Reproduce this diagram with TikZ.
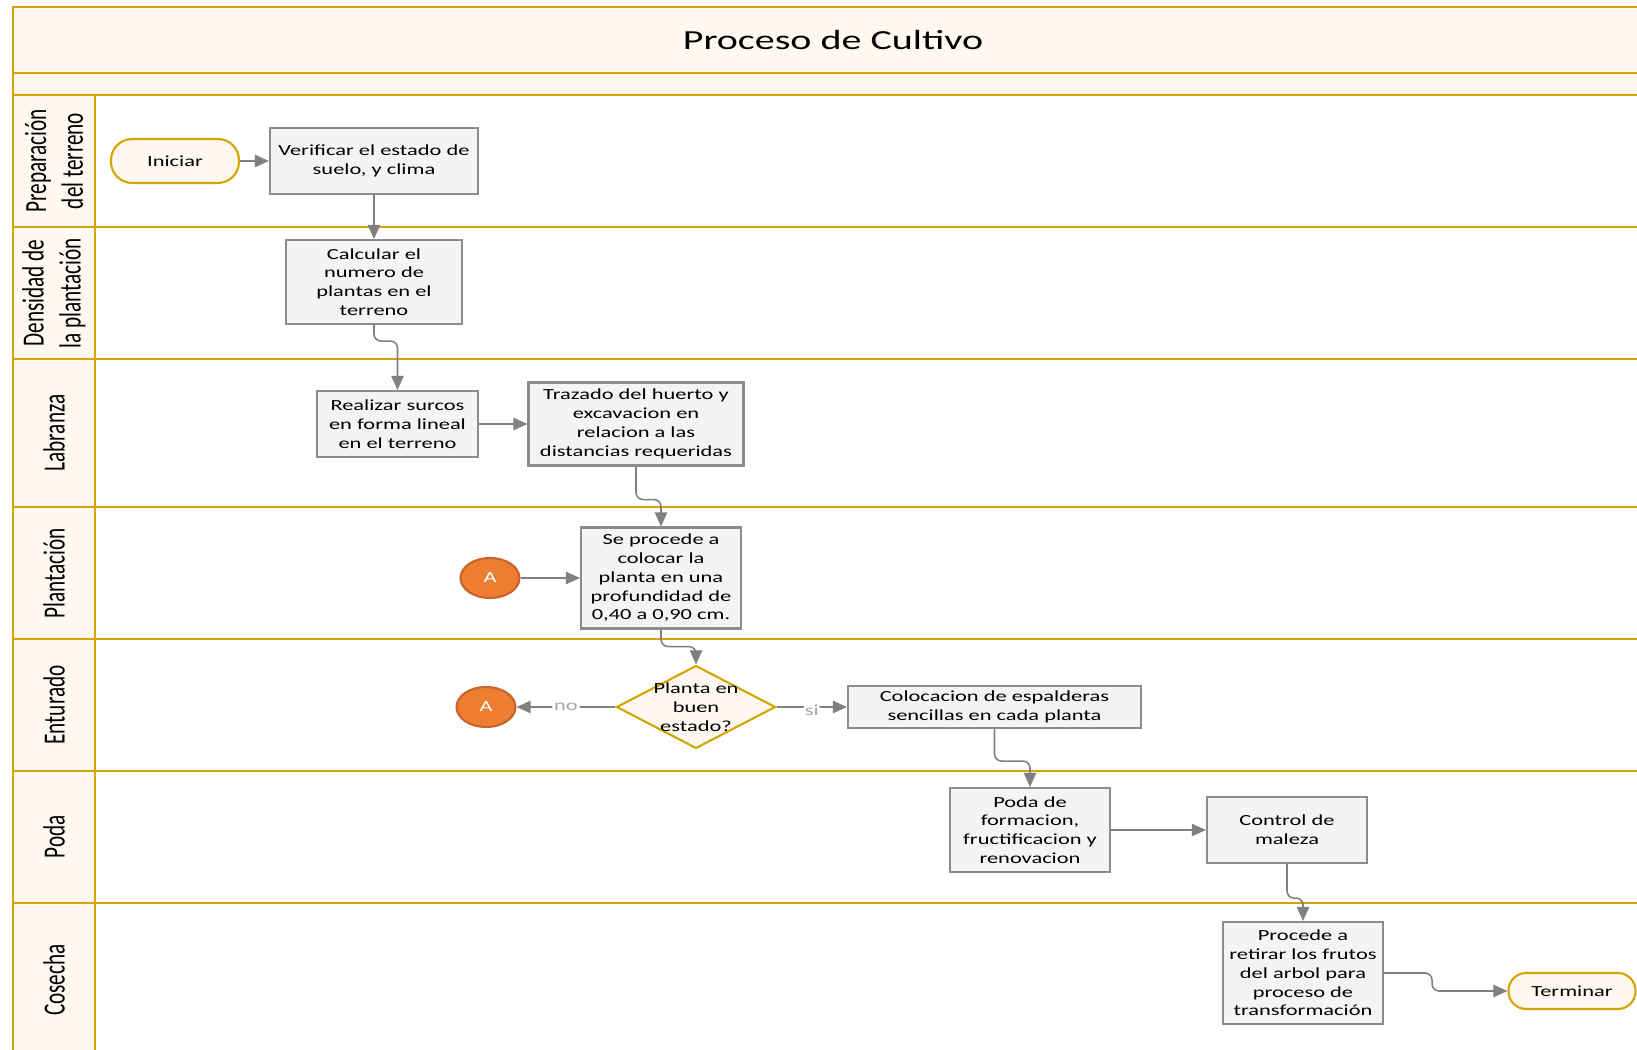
\documentclass[tikz,border=0pt]{standalone}
\usepackage{fontspec}
\setmainfont{Carlito}[FakeStretch=1.45]
\newfontfamily\lanefont{Carlito}[FakeStretch=0.69]
\usetikzlibrary{shapes,arrows.meta}

\definecolor{lanegold}{HTML}{D6A300}
\definecolor{cream}{HTML}{FEF8F1}
\definecolor{boxfill}{HTML}{F4F4F4}
\definecolor{boxline}{HTML}{8C8C8C}
\definecolor{arrowgray}{HTML}{808080}
\definecolor{taggray}{HTML}{A6A6A6}
\definecolor{conorange}{HTML}{ED7D31}
\definecolor{conline}{HTML}{C5652A}
\newcommand\boxfont{\fontsize{8.8pt}{10.7pt}\selectfont}

\begin{document}
\begin{tikzpicture}[%
    x=0.02cm, y=-0.02cm,            % one unit is one pixel of the sheet, y runs down
    >={Triangle[length=8pt,width=7pt]},
    every node/.style={font=\boxfont},
    ]
% -------------------------------------------------
% Styles for lanes, boxes and connectors
\tikzset{
  lane/.style={draw=lanegold, line width=1.2pt},
  lanehead/.style={rotate=90, align=center, font=\lanefont\fontsize{17.5pt}{21pt}\selectfont},
  base/.style={draw=boxline, line width=1.2pt, align=center, inner sep=0pt},
  proc/.style={base, rectangle, fill=boxfill},
  term/.style={base, draw=lanegold, fill=cream, rectangle},
  test/.style={base, draw=lanegold, fill=cream, diamond,
    minimum width=3.18cm, minimum height=1.66cm},
  conn/.style={base, draw=conline, fill=conorange, ellipse, text=white,
    minimum width=1.18cm, minimum height=0.8cm},
  norm/.style={->, draw=arrowgray, line width=0.9pt, rounded corners=4pt},
  tag/.style={text=taggray, fill=white, inner sep=1pt}
}
\useasboundingbox (0,0) rectangle (1637,1050);
% -------------------------------------------------
% The pool: title band, lane heads and lane lines
\fill[cream] (13,7) rectangle (1637,95);
\fill[cream] (13,95) rectangle (95,1050);
\draw[lane] (13,1050) -- (13,7) -- (1637,7);
\foreach \y in {73,95,227,359,507,639,771,903}
  \draw[lane] (13,\y) -- (1637,\y);
\draw[lane] (95,95) -- (95,1050);

\node[font=\fontsize{15.7pt}{19pt}\selectfont] (title) at (833,40) {Proceso de Cultivo};

\node[lanehead] (h1) at (54,161) {Preparación\\del terreno};
\node[lanehead] (h2) at (54,293) {Densidad de\\la plantación};
\node[lanehead] (h3) at (54,433) {Labranza};
\node[lanehead] (h4) at (54,573) {Plantación};
\node[lanehead] (h5) at (54,705) {Enturado};
\node[lanehead] (h6) at (54,837) {Poda};
\node[lanehead] (h7) at (54,980) {Cosecha};
% -------------------------------------------------
% Steps of the process
\node[term, rounded corners=12pt, minimum width=2.56cm, minimum height=0.88cm] (ini) at (175,161) {Iniciar};
\node[proc, minimum width=4.16cm, minimum height=1.32cm] (ver) at (374,161) {Verificar el estado de\\suelo, y clima};
\node[proc, minimum width=3.52cm, minimum height=1.68cm] (calc) at (374,282) {Calcular el\\numero de\\plantas en el\\terreno};
\node[proc, minimum width=3.22cm, minimum height=1.32cm] (real) at (397.5,424) {Realizar surcos\\en forma lineal\\en el terreno};
\node[proc, minimum width=4.3cm, minimum height=1.66cm] (traz) at (636,424) {Trazado del huerto y\\excavacion en\\relacion a las\\distancias requeridas};
\node[proc, minimum width=3.2cm, minimum height=2.02cm] (plant) at (661,578) {Se procede a\\colocar la\\planta en una\\profundidad de\\0,40 a 0,90 cm.};
\node[conn] (a1) at (490,578) {A};
\node[test, label={[align=center, font=\boxfont]center:Planta en\\buen\\estado?}] (dec) at (696,707) {};
\node[conn] (a2) at (486,707) {A};
\node[proc, minimum width=5.86cm, minimum height=0.84cm] (col) at (994.5,707) {Colocacion de espalderas\\sencillas en cada planta};
\node[proc, minimum width=3.2cm, minimum height=1.68cm] (poda) at (1030,830) {Poda de\\formacion,\\fructificacion y\\renovacion};
\node[proc, minimum width=3.2cm, minimum height=1.32cm] (ctrl) at (1287,830) {Control de\\maleza};
\node[proc, minimum width=3.2cm, minimum height=2.04cm] (ret) at (1303,973) {Procede a\\retirar los frutos\\del arbol para\\proceso de\\transformación};
\node[term, rounded corners=10pt, minimum width=2.54cm, minimum height=0.72cm] (fin) at (1572,991) {Terminar};
% -------------------------------------------------
% Connectors
\draw[norm] (ini) -- (ver);
\draw[norm] (ver) -- (calc);
\draw[norm] (calc.south) -- ++(0,16) -| (real.north);
\draw[norm] (real) -- (traz);
\draw[norm] (traz.south) -- ++(0,33) -| (plant.north);
\draw[norm] (a1) -- (plant);
\draw[norm] (plant.south) -- ++(0,17) -| (dec.north);
\draw[norm] (dec) -- node[tag] {no} (a2);
\draw[norm] (dec) -- node[tag, yshift=-2pt] {si} (col);
\draw[norm] (col.south) -- ++(0,32) -| (poda.north);
\draw[norm] (poda) -- (ctrl);
\draw[norm] (ctrl.south) -- ++(0,34) -| (ret.north);
\draw[norm] (ret.east) -- ++(48,0) |- (fin.west);
% -------------------------------------------------
\end{tikzpicture}
\end{document}
